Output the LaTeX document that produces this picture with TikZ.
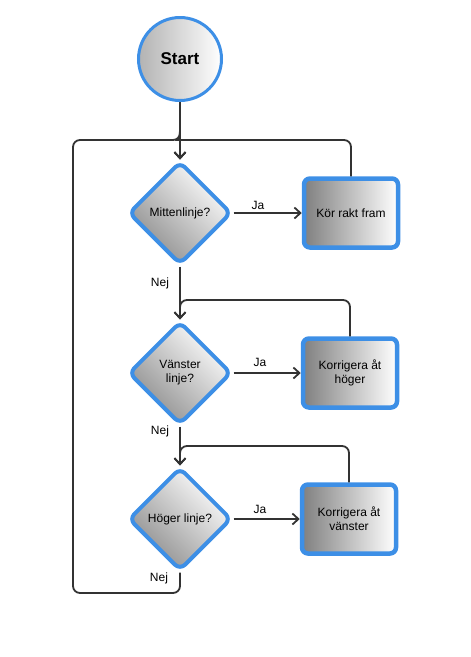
\documentclass[tikz,border=0pt]{standalone}
\usepackage{fontspec}
\setmainfont{Liberation Sans}
\usetikzlibrary{shapes.geometric,arrows.meta}
\definecolor{bord}{HTML}{3D8FE6}
\definecolor{ln}{HTML}{333333}
\tikzset{
  dec/.style={shape=diamond, draw=bord, line width=4pt, rounded corners=7pt,
    minimum width=103pt, minimum height=103pt, inner sep=0pt, align=center,
    font=\fontsize{12pt}{14pt}\selectfont,
    bottom color=black!45, top color=white, shading angle=-45},
  act/.style={rectangle, draw=bord, line width=4.5pt, rounded corners=6pt,
    minimum width=94pt, minimum height=69pt, align=center,
    font=\fontsize{12pt}{14pt}\selectfont,
    bottom color=black!50, top color=white, shading angle=-90},
  startnode/.style={circle, draw=bord, line width=3pt, minimum size=83pt,
    font=\bfseries\fontsize{17pt}{20pt}\selectfont,
    bottom color=black!30, top color=white, shading angle=-90},
  con/.style={draw=ln, line width=1.8pt, rounded corners=7pt},
  arr/.style={con, -{Straight Barb[length=6pt,width=11pt,line width=1.8pt]}},
  lab/.style={font=\fontsize{12pt}{14pt}\selectfont, inner sep=0pt}
}
\begin{document}
\begin{tikzpicture}[x=1pt,y=-1pt]
\useasboundingbox (0,0) rectangle (471,657);
\node[startnode] (start) at (180,59) {Start};
\node[dec] (d1) at (180,213) {Mittenlinje?};
\node[act] (b1) at (351,213) {Kör rakt fram};
\node[dec] (d2) at (180,373) {Vänster\\linje?};
\node[act] (b2) at (350,373) {Korrigera åt\\höger};
\node[dec] (d3) at (180,519) {Höger linje?};
\node[act] (b3) at (349,519) {Korrigera åt\\vänster};
\coordinate (j1) at (180,140);
\coordinate (j2) at (180,300);
\coordinate (j3) at (180,446);
\coordinate (bl) at (73,593);
\coordinate (tl) at (73,140);
% main flow
\draw[arr] (start) -- (d1);
\draw[arr] (d1) -- (b1);
\draw[arr] (d2) -- (b2);
\draw[arr] (d3) -- (b3);
\draw[arr] (d1) -- (d2);
\draw[arr] (d2) -- (d3);
% loops from boxes
\draw[arr] (b1.north) |- ([xshift=4pt]j1) to[out=180,in=90] ([yshift=8pt]j1) -- (d1.north);
\draw[arr] (b2.north) |- (j2) -- (d2.north);
\draw[arr] (b3.north) |- (j3) -- (d3.north);
% outer loop
\draw[arr] (d3.south) |- (bl) -- (tl) -| ([xshift=-0.01pt]j1) -- (d1.north);
% labels
\node[lab] (ja1) at (258,205) {Ja};
\node[lab] (ja2) at (260,362) {Ja};
\node[lab] (ja3) at (260,509) {Ja};
\node[lab] (nej1) at (160,283) {Nej};
\node[lab] (nej2) at (160,431) {Nej};
\node[lab] (nej3) at (159,578) {Nej};
\end{tikzpicture}
\end{document}
